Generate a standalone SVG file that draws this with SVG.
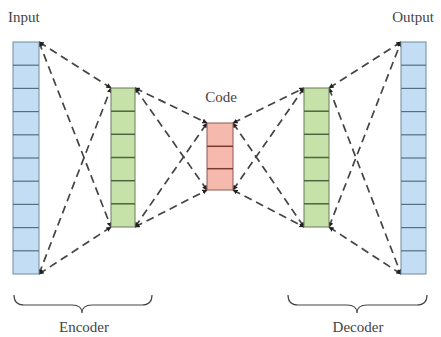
<svg xmlns="http://www.w3.org/2000/svg" width="441" height="337" viewBox="0 0 441 337">
<defs>
<style>
.lbl{font-family:"Liberation Serif","DejaVu Serif",serif;font-size:15px;fill:#444}
.blue{fill:#c3def4;stroke:#6f8a99;stroke-width:1}
.green{fill:#c7e2a9;stroke:#6b7d5c;stroke-width:1}
.red{fill:#f6b9ad;stroke:#8a5a52;stroke-width:1}
.sepb{stroke:#52707f;stroke-width:1.2}
.sepg{stroke:#4f6440;stroke-width:1.5}
.sepr{stroke:#7a3a32;stroke-width:1.5}
.con line{stroke:#444;stroke-width:1.7;stroke-dasharray:8 5;fill:none;marker-start:url(#ah);marker-end:url(#ah)}
.brace{fill:none;stroke:#444;stroke-width:1.2}
</style>
<marker id="ah" viewBox="0 0 6 6" refX="5.5" refY="3" markerWidth="3" markerHeight="3" orient="auto-start-reverse">
<path d="M0,0 L6,3 L0,6 z" fill="#222"/>
</marker>
</defs>
<rect width="441" height="337" fill="#fff"/>
<g id="connectors" class="con">
<line x1="39" y1="42" x2="111" y2="88"/>
<line x1="39" y1="42" x2="111" y2="227"/>
<line x1="39" y1="274" x2="111" y2="88"/>
<line x1="39" y1="274" x2="111" y2="227"/>
<line x1="135" y1="88" x2="207" y2="123"/>
<line x1="135" y1="88" x2="207" y2="190"/>
<line x1="135" y1="227" x2="207" y2="123"/>
<line x1="135" y1="227" x2="207" y2="190"/>
<line x1="233" y1="123" x2="304" y2="88"/>
<line x1="233" y1="123" x2="304" y2="227"/>
<line x1="233" y1="190" x2="304" y2="88"/>
<line x1="233" y1="190" x2="304" y2="227"/>
<line x1="329" y1="88" x2="401" y2="42"/>
<line x1="329" y1="88" x2="401" y2="274"/>
<line x1="329" y1="227" x2="401" y2="42"/>
<line x1="329" y1="227" x2="401" y2="274"/>
</g>
<g id="input">
<rect class="blue" x="13" y="42" width="26" height="232"/>
<g class="sepb">
<line x1="13" y1="65.2" x2="39" y2="65.2"/><line x1="13" y1="88.4" x2="39" y2="88.4"/>
<line x1="13" y1="111.6" x2="39" y2="111.6"/><line x1="13" y1="134.8" x2="39" y2="134.8"/>
<line x1="13" y1="158" x2="39" y2="158"/><line x1="13" y1="181.2" x2="39" y2="181.2"/>
<line x1="13" y1="204.4" x2="39" y2="204.4"/><line x1="13" y1="227.6" x2="39" y2="227.6"/>
<line x1="13" y1="250.8" x2="39" y2="250.8"/>
</g>
<text class="lbl" x="8" y="22">Input</text>
</g>
<g id="encoder-layer">
<rect class="green" x="111" y="88" width="24" height="139"/>
<g class="sepg">
<line x1="111" y1="111.2" x2="135" y2="111.2"/><line x1="111" y1="134.3" x2="135" y2="134.3"/>
<line x1="111" y1="157.5" x2="135" y2="157.5"/><line x1="111" y1="180.7" x2="135" y2="180.7"/>
<line x1="111" y1="203.8" x2="135" y2="203.8"/>
</g>
</g>
<g id="code">
<rect class="red" x="207" y="123" width="26" height="67"/>
<g class="sepr">
<line x1="207" y1="146.3" x2="233" y2="146.3"/><line x1="207" y1="168.7" x2="233" y2="168.7"/>
</g>
<text class="lbl" x="221" y="102" text-anchor="middle">Code</text>
</g>
<g id="decoder-layer">
<rect class="green" x="304" y="88" width="25" height="139"/>
<g class="sepg">
<line x1="304" y1="111.2" x2="329" y2="111.2"/><line x1="304" y1="134.3" x2="329" y2="134.3"/>
<line x1="304" y1="157.5" x2="329" y2="157.5"/><line x1="304" y1="180.7" x2="329" y2="180.7"/>
<line x1="304" y1="203.8" x2="329" y2="203.8"/>
</g>
</g>
<g id="output">
<rect class="blue" x="401" y="42" width="25" height="232"/>
<g class="sepb">
<line x1="401" y1="65.2" x2="426" y2="65.2"/><line x1="401" y1="88.4" x2="426" y2="88.4"/>
<line x1="401" y1="111.6" x2="426" y2="111.6"/><line x1="401" y1="134.8" x2="426" y2="134.8"/>
<line x1="401" y1="158" x2="426" y2="158"/><line x1="401" y1="181.2" x2="426" y2="181.2"/>
<line x1="401" y1="204.4" x2="426" y2="204.4"/><line x1="401" y1="227.6" x2="426" y2="227.6"/>
<line x1="401" y1="250.8" x2="426" y2="250.8"/>
</g>
<text class="lbl" x="413" y="22" text-anchor="middle">Output</text>
</g>
<g id="encoder">
<path class="brace" d="M14,295 Q14,305 24,305 L72,305 Q82,305 82,313 Q82,305 92,305 L142,305 Q152,305 152,295"/>
<text class="lbl" x="84" y="332" text-anchor="middle">Encoder</text>
</g>
<g id="decoder">
<path class="brace" d="M288,295 Q288,305 298,305 L347,305 Q357,305 357,313 Q357,305 367,305 L417,305 Q427,305 427,295"/>
<text class="lbl" x="358" y="332" text-anchor="middle">Decoder</text>
</g>
</svg>
